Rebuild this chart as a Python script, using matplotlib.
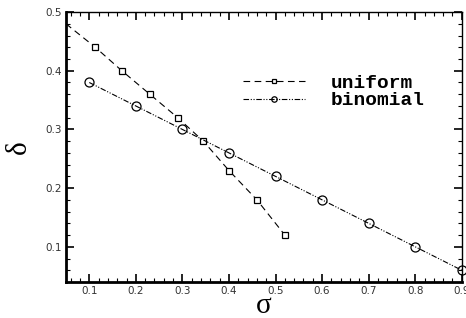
import matplotlib
matplotlib.use("Agg")
import matplotlib.pyplot as plt
from matplotlib.ticker import MultipleLocator

sigma_uniform = [0.05, 0.113, 0.17, 0.23, 0.29, 0.345, 0.40, 0.46, 0.52]
delta_uniform = [0.48, 0.44, 0.40, 0.36, 0.32, 0.28, 0.23, 0.18, 0.12]

sigma_binomial = [0.1, 0.2, 0.3, 0.4, 0.5, 0.6, 0.7, 0.8, 0.9]
delta_binomial = [0.38, 0.34, 0.30, 0.26, 0.22, 0.18, 0.14, 0.10, 0.06]

fig = plt.figure(figsize=(4.66, 3.18), dpi=100)
ax = fig.add_axes([0.1416, 0.1132, 0.8494, 0.8488])

ax.plot(sigma_uniform, delta_uniform, color="black", lw=0.8, dashes=(6, 4),
        marker="s", ms=5, mfc="white", mec="black", mew=0.9,
        markevery=list(range(1, len(sigma_uniform))), label="uniform")
ax.plot(sigma_binomial, delta_binomial, color="black", lw=0.8,
        dashes=(5, 1.5, 1, 1.5, 1, 1.5), marker="o", ms=6.5, mfc="none",
        mec="black", mew=0.9, label="binomial", clip_on=False)

ax.set_xlim(0.05, 0.9)
ax.set_ylim(0.04, 0.5)
ax.xaxis.set_minor_locator(MultipleLocator(0.02))
ax.yaxis.set_minor_locator(MultipleLocator(0.02))
ax.set_xticks([0.1, 0.2, 0.3, 0.4, 0.5, 0.6, 0.7, 0.8, 0.9])
ax.set_xticklabels(["0.1", "0.2", "0.3", "0.4", "0.5", "0.6", "0.7", "0.8", "0.9"])
ax.set_yticks([0.1, 0.2, 0.3, 0.4, 0.5])
ax.set_yticklabels(["0.1", "0.2", "0.3", "0.4", "0.5"])

ax.tick_params(which="both", direction="in", top=True, right=True,
               labelsize=7.5, labelcolor="#333333", pad=3)
ax.tick_params(which="major", length=6, width=1.2)
ax.tick_params(which="minor", length=3, width=0.8)

ax.spines["left"].set_linewidth(2)
ax.spines["bottom"].set_linewidth(2)
ax.spines["top"].set_linewidth(1)
ax.spines["right"].set_linewidth(1)

ax.set_xlabel("σ", family="Liberation Serif", fontsize=21, labelpad=-2)
ax.set_ylabel("δ", family="Liberation Serif", fontsize=21, labelpad=10)

leg = ax.legend(loc="upper left", bbox_to_anchor=(0.447, 0.77), frameon=False,
                borderaxespad=0, borderpad=0,
                handlelength=3.2, handletextpad=1.3, labelspacing=0.0,
                markerscale=0.6,
                prop={"family": "Liberation Mono", "weight": "bold", "size": 14})

fig.savefig("out.png", dpi=100)
